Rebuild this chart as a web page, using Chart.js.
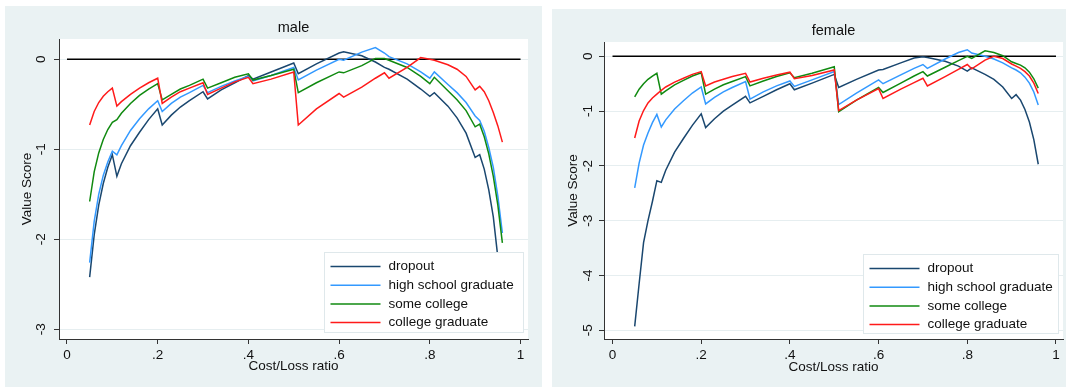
<!DOCTYPE html>
<html><head><meta charset="utf-8">
<script src="https://cdn.jsdelivr.net/npm/chart.js@4.4.1/dist/chart.umd.min.js"></script>
<style>
html,body{margin:0;padding:0;background:#fff;width:1066px;height:387px;overflow:hidden;}
.panel{position:absolute;background:#eaf2f3;}
#p1{left:5px;top:6px;width:537px;height:381px;}
#p2{left:552px;top:9px;width:514px;height:378px;}
canvas{display:block;}
</style></head><body>
<div class="panel" id="p1"><canvas id="c1" width="537" height="381"></canvas></div>
<div class="panel" id="p2"><canvas id="c2" width="514" height="378"></canvas></div>
<script>
// ---- data ----
const xValues = [0.05,0.06,0.07,0.08,0.09,0.10,0.11,0.12,0.14,0.16,0.18,0.20,0.21,0.23,0.25,0.27,0.30,0.31,0.34,0.37,0.40,0.41,0.45,0.50,0.51,0.55,0.60,0.61,0.65,0.68,0.70,0.71,0.75,0.78,0.80,0.81,0.84,0.86,0.88,0.90,0.91,0.92,0.93,0.94,0.95,0.96];
const seriesNames = ['dropout','high school graduate','some college','college graduate'];

const maleDropout = [-2.42,-1.95,-1.62,-1.38,-1.20,-1.06,-1.30,-1.16,-0.96,-0.81,-0.67,-0.55,-0.73,-0.62,-0.53,-0.46,-0.36,-0.44,-0.34,-0.26,-0.18,-0.22,-0.14,-0.04,-0.16,-0.05,0.07,0.085,0.04,-0.03,-0.09,-0.11,-0.22,-0.33,-0.41,-0.37,-0.52,-0.65,-0.82,-1.09,-1.06,-1.22,-1.45,-1.75,-2.20,-2.75];
const maleHighSchool = [-2.26,-1.80,-1.50,-1.29,-1.14,-1.02,-1.06,-0.96,-0.79,-0.66,-0.55,-0.46,-0.58,-0.49,-0.42,-0.37,-0.29,-0.37,-0.30,-0.24,-0.19,-0.24,-0.18,-0.09,-0.23,-0.12,0.00,-0.01,0.08,0.13,0.07,0.03,-0.05,-0.14,-0.21,-0.14,-0.28,-0.37,-0.48,-0.63,-0.68,-0.80,-0.98,-1.20,-1.52,-1.93];
const maleSomeCollege = [-1.58,-1.25,-1.04,-0.89,-0.78,-0.70,-0.67,-0.60,-0.49,-0.40,-0.33,-0.27,-0.45,-0.39,-0.33,-0.29,-0.22,-0.32,-0.26,-0.20,-0.16,-0.23,-0.18,-0.11,-0.37,-0.26,-0.14,-0.15,-0.07,0.01,0.01,-0.01,-0.09,-0.19,-0.27,-0.20,-0.35,-0.45,-0.57,-0.75,-0.72,-0.86,-1.05,-1.30,-1.62,-2.04];
const maleCollegeGrad = [-0.73,-0.58,-0.48,-0.41,-0.36,-0.32,-0.52,-0.47,-0.39,-0.32,-0.26,-0.21,-0.49,-0.42,-0.36,-0.32,-0.26,-0.39,-0.32,-0.25,-0.20,-0.27,-0.22,-0.14,-0.73,-0.55,-0.38,-0.42,-0.31,-0.21,-0.15,-0.21,-0.09,0.02,0.00,-0.01,-0.06,-0.11,-0.19,-0.34,-0.30,-0.36,-0.46,-0.59,-0.74,-0.92];

const femaleDropout = [-4.93,-4.15,-3.40,-3.00,-2.65,-2.27,-2.30,-2.08,-1.75,-1.50,-1.26,-1.05,-1.30,-1.14,-1.00,-0.89,-0.73,-0.85,-0.73,-0.61,-0.50,-0.61,-0.49,-0.33,-0.57,-0.42,-0.25,-0.24,-0.12,-0.03,-0.01,-0.02,-0.09,-0.18,-0.27,-0.21,-0.33,-0.42,-0.56,-0.77,-0.70,-0.80,-0.97,-1.20,-1.52,-1.97];
const femaleHighSchool = [-2.40,-1.95,-1.62,-1.40,-1.21,-1.06,-1.29,-1.16,-0.96,-0.81,-0.67,-0.56,-0.87,-0.75,-0.65,-0.57,-0.46,-0.78,-0.65,-0.54,-0.45,-0.55,-0.43,-0.28,-0.88,-0.67,-0.43,-0.50,-0.34,-0.22,-0.15,-0.22,-0.05,0.07,0.12,0.06,0.00,-0.05,-0.12,-0.21,-0.25,-0.30,-0.38,-0.49,-0.65,-0.89];
const femaleSomeCollege = [-0.74,-0.60,-0.50,-0.42,-0.36,-0.31,-0.69,-0.63,-0.52,-0.44,-0.36,-0.30,-0.69,-0.60,-0.52,-0.46,-0.37,-0.54,-0.45,-0.37,-0.30,-0.39,-0.31,-0.19,-1.01,-0.80,-0.57,-0.66,-0.49,-0.36,-0.28,-0.36,-0.20,-0.08,0.00,-0.04,0.10,0.07,0.01,-0.10,-0.13,-0.16,-0.21,-0.29,-0.41,-0.58];
const femaleCollegeGrad = [-1.49,-1.18,-0.99,-0.85,-0.76,-0.69,-0.62,-0.56,-0.47,-0.40,-0.33,-0.28,-0.54,-0.47,-0.42,-0.37,-0.31,-0.47,-0.40,-0.34,-0.29,-0.41,-0.35,-0.25,-0.99,-0.80,-0.59,-0.77,-0.60,-0.48,-0.40,-0.54,-0.37,-0.24,-0.15,-0.23,-0.07,0.00,-0.04,-0.14,-0.18,-0.22,-0.28,-0.36,-0.49,-0.68];

const zeroLineX = [0, 1];
const zeroLineY = [0, 0];
const xTickValues = [0, 0.2, 0.4, 0.6, 0.8, 1];
const xTickLabels = ['0', '.2', '.4', '.6', '.8', '1'];
const maleYTickValues = [0, -1, -2, -3];
const maleYTickLabels = ['0', '-1', '-2', '-3'];
const femaleYTickValues = [0, -1, -2, -3, -4, -5];
const femaleYTickLabels = ['0', '-1', '-2', '-3', '-4', '-5'];

// ---- styles ----
const seriesColors = ['#1a476f', '#3399ff', '#108a10', '#ff1a1a'];
const FONT = '"Liberation Sans", Arial, sans-serif';
const TXT = '#111';

const plotBg = {
  id: 'plotBg',
  beforeDraw(chart) {
    const {ctx, chartArea: a} = chart;
    ctx.save(); ctx.fillStyle = '#ffffff';
    ctx.fillRect(a.left, a.top, a.right - a.left, a.bottom - a.top);
    ctx.restore();
  }
};
const panelTitle = {
  id: 'panelTitle',
  afterDraw(chart, args, opts) {
    const {ctx, chartArea: a} = chart;
    ctx.save(); ctx.font = '14.5px ' + FONT; ctx.fillStyle = TXT;
    ctx.textAlign = 'center'; ctx.textBaseline = 'middle';
    ctx.fillText(opts.text, (a.left + a.right) / 2, a.top - 11);
    ctx.restore();
  }
};
const boxLegend = {
  id: 'boxLegend',
  afterDatasetsDraw(chart, args, opts) {
    const {ctx, chartArea: a} = chart;
    const w = opts.width, h = opts.height;
    const x0 = a.right - opts.rightInset - w, y0 = a.bottom - opts.bottomInset - h;
    ctx.save();
    ctx.fillStyle = '#ffffff'; ctx.fillRect(x0, y0, w, h);
    ctx.strokeStyle = '#dfe8eb'; ctx.lineWidth = 1;
    ctx.strokeRect(x0 + 0.5, y0 + 0.5, w - 1, h - 1);
    ctx.font = '13.5px ' + FONT; ctx.textBaseline = 'middle'; ctx.textAlign = 'left';
    seriesNames.forEach((name, i) => {
      const yy = y0 + 14.5 + i * 18.7;
      ctx.strokeStyle = seriesColors[i]; ctx.lineWidth = 1.5;
      ctx.beginPath(); ctx.moveTo(x0 + 6.5, yy); ctx.lineTo(x0 + 56.5, yy); ctx.stroke();
      ctx.fillStyle = TXT; ctx.fillText(name, x0 + 64.5, yy);
    });
    ctx.restore();
  }
};

function makeChart(id, p) {
  const datasets = seriesNames.map((name, i) => ({
    label: name,
    data: xValues.map((x, j) => ({x: x, y: p.series[i][j]})),
    borderColor: seriesColors[i], borderWidth: 1.5, pointRadius: 0, fill: false, tension: 0,
    order: 4 - i
  }));
  datasets.push({
    label: 'zero', data: zeroLineX.map((x, j) => ({x: x, y: zeroLineY[j]})),
    borderColor: '#000', borderWidth: 1.5, pointRadius: 0, fill: false, order: 10
  });
  return new Chart(document.getElementById(id), {
    type: 'line',
    data: {datasets: datasets},
    options: {
      responsive: false, animation: false, devicePixelRatio: 1,
      layout: {padding: {left: 0, right: p.padRight, top: 33, bottom: 0}},
      plugins: {
        legend: {display: false}, tooltip: {enabled: false},
        panelTitle: {text: p.title},
        boxLegend: {width: p.legendW, height: p.legendH, rightInset: 4, bottomInset: p.legendBottom}
      },
      scales: {
        x: {
          type: 'linear', min: p.xMin, max: p.xMax,
          afterBuildTicks: s => { s.ticks = xTickValues.map(v => ({value: v})); },
          afterFit: s => { s.height = p.xAxisH; },
          ticks: {autoSkip: false, maxRotation: 0, minRotation: 0, padding: 3, color: TXT,
                  font: {family: FONT, size: 13.5}, callback: (v, i) => xTickLabels[i]},
          grid: {drawOnChartArea: false, drawTicks: true, tickLength: 5, tickColor: '#333', lineWidth: 1},
          border: {display: true, color: '#333', width: 1},
          title: {display: true, text: 'Cost/Loss ratio', color: TXT, font: {family: FONT, size: 13.5},
                  padding: {top: 0, bottom: p.xTitlePad}}
        },
        y: {
          type: 'linear', min: p.yMin, max: p.yMax,
          afterBuildTicks: s => { s.ticks = p.yTicks.map(v => ({value: v})); },
          afterFit: s => { s.width = p.yAxisW; },
          ticks: {autoSkip: false, minRotation: 90, maxRotation: 90, crossAlign: 'center', padding: p.yTickPad,
                  color: TXT, font: {family: FONT, size: 13.5}, callback: (v, i) => p.yLabels[i]},
          grid: {drawOnChartArea: true, color: '#e6eef0', drawTicks: true, tickLength: 5, tickColor: '#333', lineWidth: 1},
          border: {display: true, color: '#333', width: 1},
          title: {display: true, text: 'Value Score', color: TXT, font: {family: FONT, size: 13.5},
                  padding: {top: p.yTitlePad, bottom: 0}}
        }
      }
    },
    plugins: [plotBg, panelTitle, boxLegend]
  });
}

makeChart('c1', {
  title: 'male',
  series: [maleDropout, maleHighSchool, maleSomeCollege, maleCollegeGrad],
  xMin: -0.0176, xMax: 1.0165, yMin: -3.108, yMax: 0.226,
  yTicks: maleYTickValues, yLabels: maleYTickLabels,
  padRight: 14, yAxisW: 54, xAxisH: 48, yTickPad: 6.3, xTitlePad: 13, yTitlePad: 14.6,
  legendW: 200, legendH: 81, legendBottom: 6
});
makeChart('c2', {
  title: 'female',
  series: [femaleDropout, femaleHighSchool, femaleSomeCollege, femaleCollegeGrad],
  xMin: -0.0192, xMax: 1.0158, yMin: -5.159, yMax: 0.261,
  yTicks: femaleYTickValues, yLabels: femaleYTickLabels,
  padRight: 3, yAxisW: 52, xAxisH: 48, yTickPad: 5, xTitlePad: 12, yTitlePad: 12.9,
  legendW: 196, legendH: 80, legendBottom: 5
});
</script>
</body></html>
